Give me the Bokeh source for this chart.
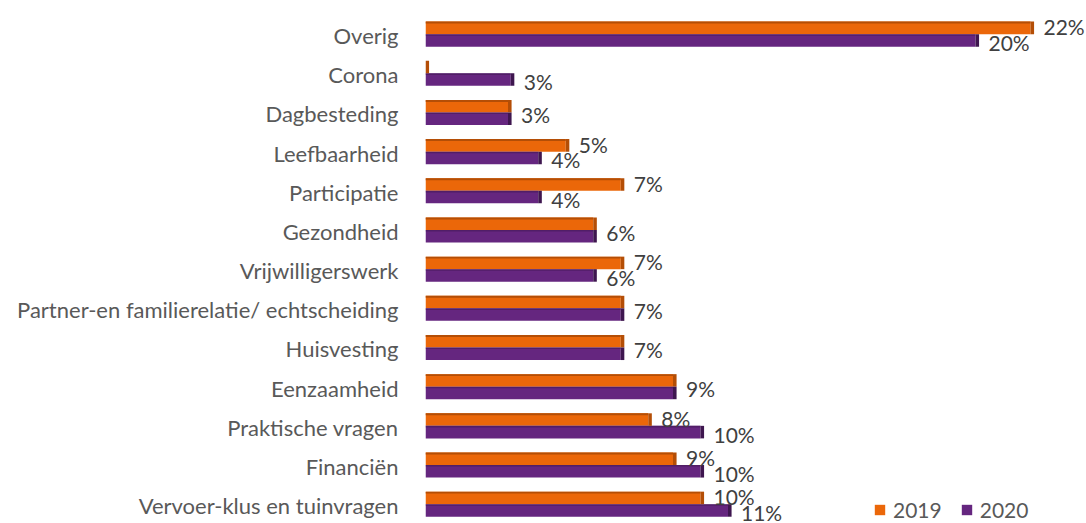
from bokeh.plotting import figure
from bokeh.models import ColumnDataSource, Range1d, FixedTicker, Legend, LegendItem
from bokeh.core.properties import value
from bokeh.embed import file_html
from bokeh.resources import INLINE

categories = ["Overig", "Corona", "Dagbesteding", "Leefbaarheid", "Participatie",
              "Gezondheid", "Vrijwilligerswerk", "Partner-en familierelatie/ echtscheiding",
              "Huisvesting", "Eenzaamheid", "Praktische vragen", "Financiën",
              "Vervoer-klus en tuinvragen"]
v2019 = [22.0, 0.0, 3.0, 5.1, 7.1, 6.1, 7.1, 7.1, 7.1, 9.0, 8.1, 9.0, 10.0]
v2020 = [20.0, 3.1, 3.0, 4.1, 4.1, 6.1, 6.1, 7.1, 7.1, 9.0, 10.0, 10.0, 11.0]
series = ["2019", "2020"]

ORANGE, ORANGE_D = "#EB6709", "#B44E06"
PURPLE, PURPLE_D = "#65267F", "#3E164F"
FONT = "Lato"

n = len(categories)
ypos = [n - 1 - i for i in range(n)]
BAR_H = 0.32
y19 = [y + 0.195 for y in ypos]
y20 = [y - 0.125 for y in ypos]

p = figure(width=1086, height=523, output_backend="svg", toolbar_location=None,
           x_range=Range1d(0, 661 / 27.5), y_range=Range1d(-0.458, 12.894),
           min_border_left=425, min_border_right=0, min_border_top=0, min_border_bottom=0)
p.outline_line_color = None
p.xgrid.visible = False
p.ygrid.visible = False
p.xaxis.visible = False
p.background_fill_color = "white"
p.border_fill_color = "white"

src = ColumnDataSource(dict(cat=categories, y19=y19, y20=y20, v19=v2019, v20=v2020,
                            e19=[v + 0.13 for v in v2019], e20=[v + 0.13 for v in v2020],
                            t19=[y + BAR_H / 2 - 0.025 for y in y19],
                            t20=[y + BAR_H / 2 - 0.02 for y in y20]))

r19 = p.hbar(y="y19", left=0, right="v19", height=BAR_H, source=src,
             fill_color=ORANGE, line_color=None)
r20 = p.hbar(y="y20", left=0, right="v20", height=BAR_H, source=src,
             fill_color=PURPLE, line_color=None)
# 3D-ish top edges and end faces
p.hbar(y="t19", left=0, right="v19", height=0.05, source=src, fill_color=ORANGE_D, line_color=None)
p.hbar(y="t20", left=0, right="v20", height=0.04, source=src, fill_color=PURPLE_D, line_color=None, fill_alpha=0.5)
p.hbar(y="y19", left="v19", right="e19", height=BAR_H, source=src, fill_color=ORANGE_D, line_color=None)
p.hbar(y="y20", left="v20", right="e20", height=BAR_H, source=src, fill_color=PURPLE_D, line_color=None)

# value labels
lx, ly, lt = [], [], []
for y, a, b in zip(ypos, v2019, v2020):
    ra, rb = round(a), round(b)
    if ra == rb:
        lx.append(max(a, b)); ly.append(y - 0.02); lt.append(f"{ra}%")
    else:
        if a > 0:
            lx.append(a); ly.append(y + 0.225); lt.append(f"{ra}%")
        lx.append(b); ly.append(y - 0.175); lt.append(f"{rb}%")
lsrc = ColumnDataSource(dict(x=lx, y=ly, t=lt))
p.text(x="x", y="y", text="t", source=lsrc, x_offset=13, text_baseline="middle",
       text_align="left", text_font=value(FONT), text_font_size="21px", text_color="#404040")

yax = p.yaxis[0]
yax.ticker = FixedTicker(ticks=ypos)
yax.major_label_overrides = {y: c for y, c in zip(ypos, categories)}
yax.axis_line_color = None
yax.major_tick_line_color = None
yax.minor_tick_line_color = None
yax.major_label_standoff = 21
yax.major_label_text_font = FONT
yax.major_label_text_font_size = "22px"
yax.major_label_text_color = "#595959"

legend = Legend(items=[LegendItem(label=series[0], renderers=[r19]),
                       LegendItem(label=series[1], renderers=[r20])],
                location=(448, 1), orientation="horizontal", glyph_width=13, glyph_height=13,
                label_text_font=FONT, label_text_font_size="21px", label_text_color="#595959",
                border_line_color=None, background_fill_alpha=0, padding=0, margin=0,
                spacing=18, label_standoff=7, label_height=22)
p.add_layout(legend)

open("out.html", "w").write(file_html(p, INLINE))
